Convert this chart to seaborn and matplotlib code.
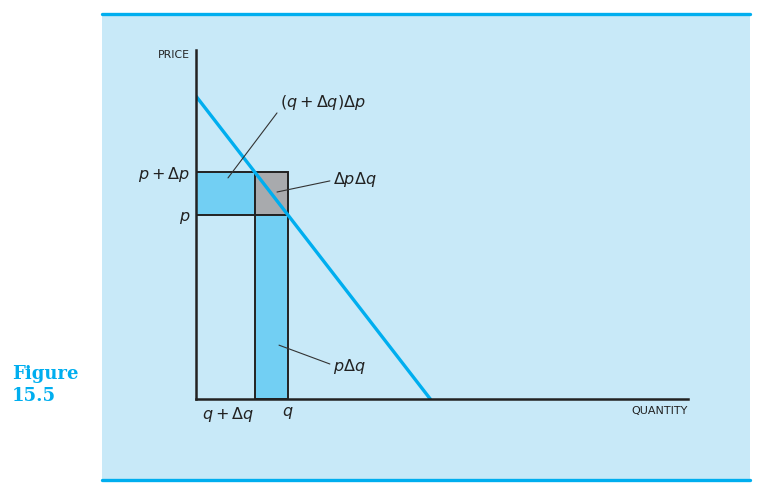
import matplotlib
matplotlib.use("Agg")
import matplotlib.pyplot as plt
from matplotlib.patches import Rectangle
from matplotlib.lines import Line2D
from matplotlib.transforms import ScaledTranslation
import seaborn as sns
import pandas as pd

# Demand curve end points (quantity, price)
demand_qty = [0, 7]
demand_price = [9, 0]

# quantities marked on the axis (left, right) and prices
q_marks = [1.75, 2.75]
q_labels = [r"$q + \Delta q$", r"$q$"]
p_low = 9 - 9 / 7 * q_marks[1]
p_high = 9 - 9 / 7 * q_marks[0]
p_marks = [p_high, p_low]
p_labels = [r"$p + \Delta p$", r"$p$"]

# area labels: text, anchor (text left/centre), leader line start and end
area_labels = [r"$(q + \Delta q)\Delta p$", r"$\Delta p\Delta q$", r"$p\Delta q$"]
label_pos = [(2.51, 8.80), (4.09, 6.51), (4.09, 0.98)]
leader_from = [(0.956, 6.57), (2.42, 6.15), (2.48, 1.60)]
leader_to = [(2.42, 8.50), (4.00, 6.48), (4.00, 1.04)]

cyan = "#00AEEF"
panel = "#C8E9F8"
fill_blue = "#72CFF3"
fill_gray = "#A8AAAD"
ink = "#222222"

sns.set_style("white")
plt.rcParams["mathtext.fontset"] = "dejavusans"

fig = plt.figure(figsize=(7.62, 4.93), dpi=100)
fig.patches.append(Rectangle((102 / 762, 1 - 479 / 493), 648 / 762, 464 / 493,
                             transform=fig.transFigure, facecolor=panel, edgecolor="none", zorder=-10))
for yy in [1 - 14 / 493, 1 - 479.5 / 493]:
    fig.lines.append(Line2D([102 / 762, 750 / 762], [yy, yy], transform=fig.transFigure,
                            color=cyan, lw=2.4, zorder=-5))

ax = fig.add_axes([196 / 762, 1 - 399 / 493, 492 / 762, 349 / 493])
ax.set_facecolor("none")
ax.set_zorder(5)

# rectangles
ax.bar([0], [p_high - p_low], width=q_marks[0], bottom=p_low, align="edge",
       color=fill_blue, edgecolor=ink, linewidth=1.4, zorder=2)
ax.bar([q_marks[0]], [p_high - p_low], width=q_marks[1] - q_marks[0], bottom=p_low, align="edge",
       color=fill_gray, edgecolor=ink, linewidth=1.4, zorder=2)
ax.bar([q_marks[0]], [p_low], width=q_marks[1] - q_marks[0], bottom=0, align="edge",
       color=fill_blue, edgecolor=ink, linewidth=1.4, zorder=2)

df = pd.DataFrame({"q": demand_qty, "p": demand_price})
sns.lineplot(data=df, x="q", y="p", ax=ax, color=cyan, lw=2.4, zorder=3)

ax.set_xlim(0, 14.7)
ax.set_ylim(0, 10.37)
for s in ["top", "right"]:
    ax.spines[s].set_visible(False)
for s in ["left", "bottom"]:
    ax.spines[s].set_color(ink)
    ax.spines[s].set_linewidth(1.8)
    ax.spines[s].set_zorder(4)
ax.set_xticks(q_marks)
ax.set_xticklabels(q_labels, fontsize=11.5, color=ink)
first = ax.get_xticklabels()[0]
first.set_ha("right")
first.set_transform(first.get_transform() + ScaledTranslation(4 / 100, 0, fig.dpi_scale_trans))
ax.set_yticks(p_marks)
ax.set_yticklabels(p_labels, fontsize=11.5, color=ink)
ax.tick_params(axis="y", length=0, pad=4)
ax.tick_params(axis="x", length=0, pad=4)
ax.set_xlabel("")
ax.set_ylabel("")

ax.text(-0.17, 10.22, "PRICE", fontsize=7.8, color=ink, ha="right", va="center")
ax.text(14.7, -0.35, "QUANTITY", fontsize=8, color=ink, ha="right", va="center")

# annotations
for txt, pos, a, b in zip(area_labels, label_pos, leader_from, leader_to):
    ax.plot([a[0], b[0]], [a[1], b[1]], color="#333333", lw=0.8, zorder=5)
    ax.text(pos[0], pos[1], txt, fontsize=11.5, color=ink, ha="left", va="center")

fig.text(12 / 762, 1 - 385 / 493, "Figure\n15.5", fontsize=13, fontweight="bold",
         family="DejaVu Serif", color=cyan, ha="left", va="center", linespacing=1.3)

fig.savefig("out.png", dpi=100)
